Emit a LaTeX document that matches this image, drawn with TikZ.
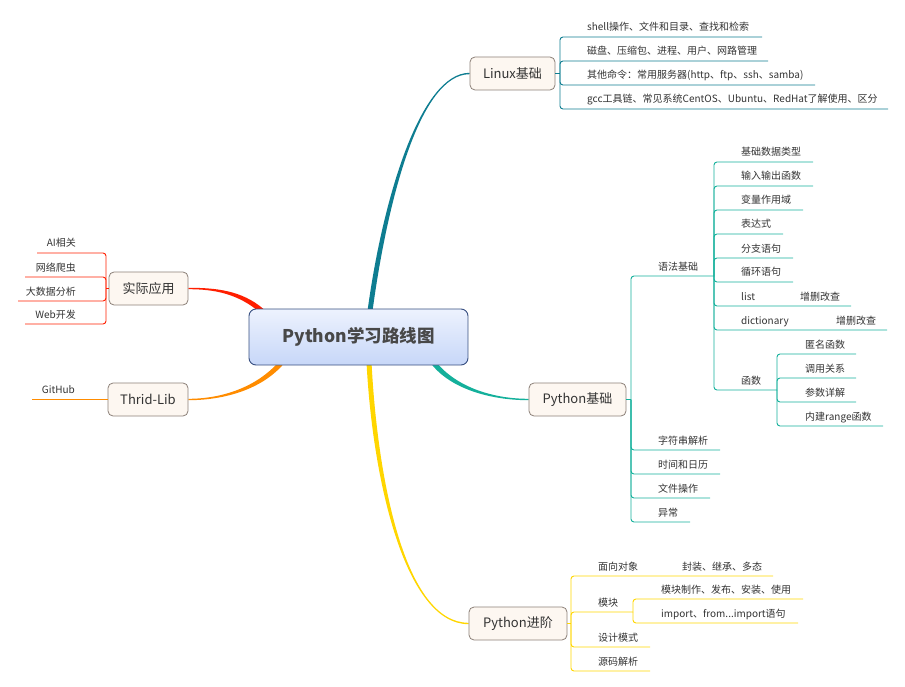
\documentclass[tikz,border=0pt]{standalone}
\usepackage{fontspec}
\setmainfont{Noto Sans CJK SC}
\usetikzlibrary{calc,backgrounds}
\definecolor{cLinux}{RGB}{14,125,145}
\definecolor{cBase}{RGB}{20,176,155}
\definecolor{cAdv}{RGB}{255,214,0}
\definecolor{cApp}{RGB}{255,30,0}
\definecolor{cLib}{RGB}{255,140,0}
\definecolor{boxfill}{RGB}{253,247,241}
\definecolor{boxdraw}{RGB}{140,128,120}
\definecolor{txt}{RGB}{51,51,51}
\definecolor{roottext}{RGB}{72,72,72}
\definecolor{rootdraw}{RGB}{55,78,128}
\definecolor{roottop}{RGB}{237,242,254}
\definecolor{rootbot}{RGB}{199,215,248}

% color, bracket x, parent y, line y, end x, text x, name, text
\newcommand\mmleaf[8]{%
  \draw[#1, leafline] (#2,#3) -- (#2,#4) -- (#5,#4);
  \node[leaftext, anchor=base west] (#7) at (#6,#4-6) {#8};}
\newcommand\mmleafL[8]{%
  \draw[#1, leafline] (#2,#3) -- (#2,#4) -- (#5,#4);
  \node[leaftext, anchor=base east] (#7) at (#6,#4-6) {#8};}
% color, S, C1, C2, E, p0x, p0y, p1x, p1y
\newcommand\taper[9]{%
  \fill[#1] ($(#2)+(#6,#7)$) .. controls ($(#3)+(#6,#7)$) and ($(#4)+(#8,#9)$) .. ($(#5)+(#8,#9)$)
    -- ($(#5)-(#8,#9)$) .. controls ($(#4)-(#8,#9)$) and ($(#3)-(#6,#7)$) .. ($(#2)-(#6,#7)$) -- cycle;}

\begin{document}
\begin{tikzpicture}[x=1pt,y=-1pt,
  leaftext/.style={font=\fontsize{10}{12}\selectfont, text=txt, inner sep=0pt},
  leafline/.style={line width=0.9pt, rounded corners=3pt},
  stub/.style={line width=0.9pt},
  mmbox/.style={draw=boxdraw, fill=boxfill, rounded corners=5pt, line width=0.8pt,
    font=\fontsize{13}{15}\selectfont, text=txt, minimum height=33pt, inner sep=0pt},
  rootbox/.style={draw=rootdraw, top color=roottop, bottom color=rootbot, rounded corners=7pt,
    line width=0.9pt, font=\fontsize{17.5}{20}\selectfont\bfseries, text=roottext,
    minimum width=219pt, minimum height=56pt, inner sep=0pt}]
\useasboundingbox (0,0) rectangle (905,687);

% main nodes
\node[rootbox] (root) at (358.5,337) {Python学习路线图};
\node[mmbox, minimum width=85pt] (linux) at (512.5,73.5) {Linux基础};
\node[mmbox, minimum width=97pt] (pybase) at (577.5,399.5) {Python基础};
\node[mmbox, minimum width=98pt] (pyadv) at (518,623.5) {Python进阶};
\node[mmbox, minimum width=79pt] (app) at (148.5,288.5) {实际应用};
\node[mmbox, minimum width=80pt] (lib) at (148,399.5) {Thrid-Lib};

% tapered main branches
\coordinate (sL) at (370,311);
\coordinate (sB) at (433,362);
\coordinate (sA) at (369,362);
\coordinate (sP) at (262,311);
\coordinate (sT) at (282,362);
\coordinate (cL1) at (385,200);  \coordinate (cL2) at (420,73.5);
\coordinate (cB1) at (452,387);  \coordinate (cB2) at (490,399.5);
\coordinate (cA1) at (375,480);  \coordinate (cA2) at (405,623.5);
\coordinate (cP1) at (240,292);  \coordinate (cP2) at (215,288.5);
\coordinate (cT1) at (258,390);  \coordinate (cT2) at (220,399.5);
\begin{pgfonlayer}{background}
\taper{cLinux}{sL}{cL1}{cL2}{linux.west}{2.5}{0}{0}{0.7}
\taper{cBase}{sB}{cB1}{cB2}{pybase.west}{1.95}{-1.56}{0}{-0.7}
\taper{cAdv}{sA}{cA1}{cA2}{pyadv.west}{2.5}{0}{0}{-0.7}
\taper{cApp}{sP}{cP1}{cP2}{app.east}{1.6}{-1.9}{0}{-0.7}
\taper{cLib}{sT}{cT1}{cT2}{lib.east}{-1.9}{-1.6}{0}{-0.7}
\end{pgfonlayer}

% Linux
\draw[cLinux, stub] (linux.east) -- (560,73.5);
\mmleaf{cLinux}{560}{73.5}{37}{762}{587}{l1}{shell操作、文件和目录、查找和检索}
\mmleaf{cLinux}{560}{73.5}{61}{768}{587}{l2}{磁盘、压缩包、进程、用户、网路管理}
\mmleaf{cLinux}{560}{73.5}{85}{815}{587}{l3}{其他命令：常用服务器(http、ftp、ssh、samba)}
\mmleaf{cLinux}{560}{73.5}{109}{888}{587}{l4}{gcc工具链、常见系统CentOS、Ubuntu、RedHat了解使用、区分}

% Python基础
\draw[cBase, stub] (pybase.east) -- (631,399.5);
\mmleaf{cBase}{631}{399.5}{276}{714}{658}{b1}{语法基础}
\mmleaf{cBase}{631}{399.5}{450}{720}{658}{b2}{字符串解析}
\mmleaf{cBase}{631}{399.5}{474}{720}{658}{b3}{时间和日历}
\mmleaf{cBase}{631}{399.5}{498}{710}{658}{b4}{文件操作}
\mmleaf{cBase}{631}{399.5}{522}{690}{658}{b5}{异常}

\mmleaf{cBase}{714}{276}{162}{813}{741}{s1}{基础数据类型}
\mmleaf{cBase}{714}{276}{186}{813}{741}{s2}{输入输出函数}
\mmleaf{cBase}{714}{276}{210}{803}{741}{s3}{变量作用域}
\mmleaf{cBase}{714}{276}{234}{783}{741}{s4}{表达式}
\mmleaf{cBase}{714}{276}{258}{793}{741}{s5}{分支语句}
\mmleaf{cBase}{714}{276}{282}{793}{741}{s6}{循环语句}
\mmleaf{cBase}{714}{276}{306}{851}{741}{s7}{list}
\node[leaftext, anchor=base west] (s7a) at (800,300) {增删改查};
\mmleaf{cBase}{714}{276}{330}{887}{741}{s8}{dictionary}
\node[leaftext, anchor=base west] (s8a) at (836,324) {增删改查};
\mmleaf{cBase}{714}{276}{390}{777}{741}{s9}{函数}

\mmleaf{cBase}{777}{390}{354}{856}{805}{f1}{匿名函数}
\mmleaf{cBase}{777}{390}{378}{856}{805}{f2}{调用关系}
\mmleaf{cBase}{777}{390}{402}{856}{805}{f3}{参数详解}
\mmleaf{cBase}{777}{390}{426}{883}{805}{f4}{内建range函数}

% Python进阶
\draw[cAdv, stub] (pyadv.east) -- (571,623.5);
\mmleaf{cAdv}{571}{623.5}{576}{773}{598}{a1}{面向对象}
\node[leaftext, anchor=base west] (a1a) at (682,570) {封装、继承、多态};
\mmleaf{cAdv}{571}{623.5}{612}{633}{598}{a2}{模块}
\mmleaf{cAdv}{571}{623.5}{647}{650}{598}{a3}{设计模式}
\mmleaf{cAdv}{571}{623.5}{671}{650}{598}{a4}{源码解析}
\mmleaf{cAdv}{633}{612}{599}{803}{661}{m1}{模块制作、发布、安装、使用}
\mmleaf{cAdv}{633}{612}{623}{798}{661}{m2}{import、from...import语句}

% 实际应用
\draw[cApp, stub] (app.west) -- (106,288.5);
\mmleafL{cApp}{106}{288.5}{253}{37}{76}{p1}{AI相关}
\mmleafL{cApp}{106}{288.5}{277}{25}{76}{p2}{网络爬虫}
\mmleafL{cApp}{106}{288.5}{301}{18}{76}{p3}{大数据分析}
\mmleafL{cApp}{106}{288.5}{324}{25}{76}{p4}{Web开发}

% Thrid-Lib
\coordinate (gEnd) at (32,399.5);
\draw[cLib, stub] (lib.west) -- (gEnd);
\node[leaftext, anchor=base east] (g1) at (75,393.5) {GitHub};
\end{tikzpicture}
\end{document}
